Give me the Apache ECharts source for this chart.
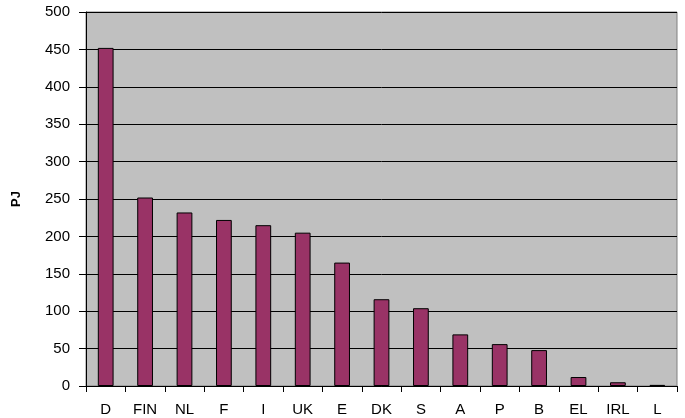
<!DOCTYPE html>
<html><head><meta charset="utf-8">
<script src="https://cdn.jsdelivr.net/npm/echarts@6/dist/echarts.min.js"></script>
<style>html,body{margin:0;padding:0;background:#fff}#c{width:685px;height:418px}</style>
</head><body><div id="c"></div>
<script>
const categories = ['D','FIN','NL','F','I','UK','E','DK','S','A','P','B','EL','IRL','L'];
const values = [452, 252, 232, 222, 215, 205, 165, 116, 104, 69, 56, 48, 12, 5, 1.5];
const yTicks = [0, 50, 100, 150, 200, 250, 300, 350, 400, 450, 500];

const chart = echarts.init(document.getElementById('c'), null, {renderer:'canvas'});
const font = 'Liberation Sans, Arial, sans-serif';
chart.setOption({
  animation: false,
  grid: {left: 86, right: 8, top: 12, bottom: 32, show: true, containLabel: false, outerBoundsMode: 'none',
    backgroundColor: '#C0C0C0', borderColor: '#808080', borderWidth: 1},
  xAxis: {
    type: 'category', data: categories,
    axisLine: {lineStyle: {color: '#000', width: 1}},
    axisTick: {show: true, alignWithLabel: false, length: 6, lineStyle: {color: '#000'}},
    axisLabel: {color: '#000', fontFamily: font, fontSize: 15, margin: 16, interval: 0},
    splitLine: {show: false}
  },
  yAxis: {
    type: 'value', min: 0, max: 500, interval: 50,
    name: 'PJ', nameLocation: 'middle', nameGap: 63, nameRotate: 90,
    nameTextStyle: {color: '#000', fontFamily: font, fontSize: 13, fontWeight: 'bold'},
    axisLine: {show: true, lineStyle: {color: '#000', width: 1}},
    axisTick: {show: true, length: 7, lineStyle: {color: '#000'}},
    axisLabel: {color: '#000', fontFamily: font, fontSize: 15, margin: 16,
      formatter: v => yTicks.includes(v) ? String(v) : ''},
    splitLine: {show: true, lineStyle: {color: '#000', width: 1}}
  },
  series: [{
    type: 'bar', data: values, barWidth: '40%',
    itemStyle: {color: '#993366', borderColor: '#000', borderWidth: 1}
  }]
});
</script></body></html>
